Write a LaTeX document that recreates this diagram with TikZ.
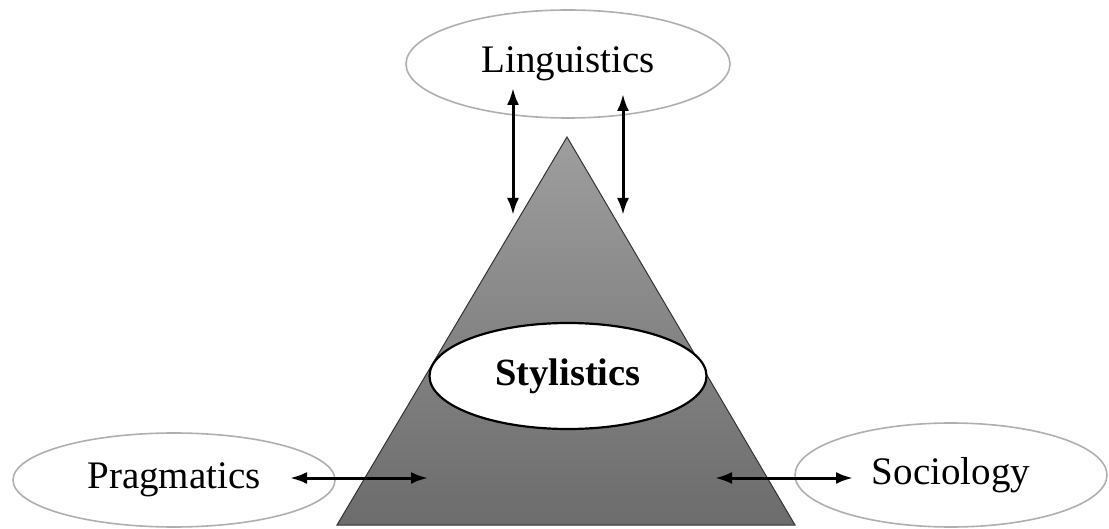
\documentclass[tikz,border=0pt]{standalone}
\usepackage{fontspec}
\setmainfont{Liberation Serif}
\usetikzlibrary{shapes.geometric,arrows.meta}
\definecolor{ringgray}{RGB}{175,175,175}
\definecolor{toptri}{RGB}{158,158,158}
\definecolor{bottri}{RGB}{108,108,108}
\tikzset{
  outer/.style={ellipse, draw=ringgray, line width=1.6pt, fill=white, inner sep=0pt,
    font=\fontsize{39}{45}\selectfont},
  core/.style={ellipse, draw=black, line width=2.2pt, fill=white, inner sep=0pt,
    font=\fontsize{38.5}{45}\selectfont\bfseries},
  link/.style={{Latex[length=17pt,width=12pt]}-{Latex[length=17pt,width=12pt]}, line width=3pt, black},
  pyramid/.style={draw=black!80, line width=1pt, top color=toptri, bottom color=bottri}
}
\begin{document}
\begin{tikzpicture}[x=1pt,y=-1pt]
\useasboundingbox (0,0) rectangle (1109,529);
% pyramid
\coordinate (apex) at (567,137);
\coordinate (bl) at (337,525);
\coordinate (br) at (795,525);
\path[pyramid] (bl) -- (br) -- (apex) -- cycle;
% ellipses
\node[outer, minimum width=324pt, minimum height=108pt] (ling) at (568,64) {Linguistics};
\node[outer, minimum width=322pt, minimum height=94pt] (prag) at (174,480) {Pragmatics};
\node[outer, minimum width=312pt, minimum height=104pt] (soc) at (951,475) {Sociology};
\node[core, minimum width=277pt, minimum height=106pt] (sty) at (568,376) {Stylistics};
% arrow end points
\coordinate (l1t) at (513,88);
\coordinate (l1b) at (513,215);
\coordinate (l2t) at (623,94);
\coordinate (l2b) at (623,215);
\coordinate (pa) at (290,478);
\coordinate (pb) at (428,478);
\coordinate (sa) at (715,478);
\coordinate (sb) at (853,478);
\draw[link] (l1t) -- (l1b);
\draw[link] (l2t) -- (l2b);
\draw[link] (pa) -- (pb);
\draw[link] (sa) -- (sb);
\end{tikzpicture}
\end{document}
